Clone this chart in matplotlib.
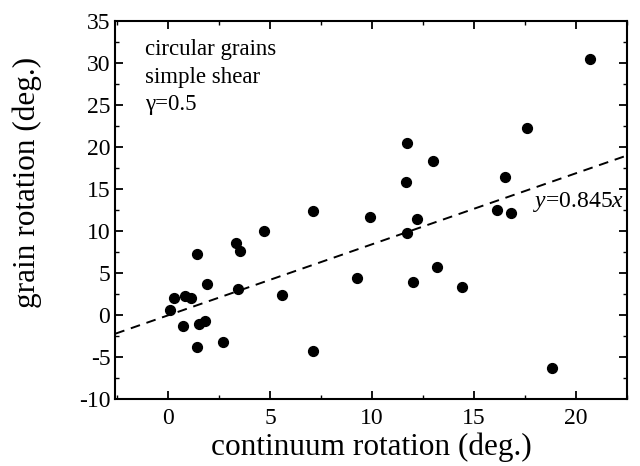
import matplotlib
matplotlib.use("Agg")
import matplotlib.pyplot as plt
from matplotlib.ticker import MultipleLocator
import numpy as np

plt.rcParams["font.family"] = ["Liberation Serif", "DejaVu Serif"]
plt.rcParams["mathtext.fontset"] = "custom"
plt.rcParams["mathtext.rm"] = "Liberation Serif"
plt.rcParams["mathtext.it"] = "Liberation Serif:italic"
plt.rcParams["axes.unicode_minus"] = False

continuum = [0.1, 0.3, 0.8, 1.1, 0.7, 1.4, 1.4, 1.5, 1.8, 1.9, 2.7, 3.3, 3.5, 3.4,
             4.7, 5.6, 7.1, 7.1, 9.25, 9.9, 11.7, 12.2, 13.2, 12.0, 14.4, 16.1,
             16.8, 18.8, 20.7, 17.6, 11.7, 11.65, 13.0, 16.5]
grain = [0.6, 2.0, 2.3, 2.0, -1.3, 7.3, -3.8, -1.0, -0.7, 3.7, -3.2, 8.6, 7.6, 3.1,
         10.0, 2.4, 12.4, -4.2, 4.4, 11.7, 9.8, 11.4, 5.7, 4.0, 3.4, 12.5,
         12.2, -6.3, 30.5, 22.3, 20.5, 15.8, 18.3, 16.5]
slope = 0.845

fig, ax = plt.subplots(figsize=(6.4, 4.66), dpi=100)
fig.subplots_adjust(left=0.18, right=0.98, top=0.955, bottom=0.143)

ax.scatter(continuum, grain, s=50, color="black", zorder=3)
xl = np.array([-2.6, 22.5])
ax.plot(xl, slope * xl, color="black", ls=(0, (5, 3.5)), lw=1.4)

ax.set_xlim(-2.6, 22.5)
ax.set_ylim(-10, 35)
ax.xaxis.set_major_locator(MultipleLocator(5))
ax.xaxis.set_minor_locator(MultipleLocator(2.5))
ax.yaxis.set_major_locator(MultipleLocator(5))
ax.yaxis.set_minor_locator(MultipleLocator(2.5))
ax.tick_params(which="both", direction="in", top=True, right=True, labelsize=17)
ax.tick_params(axis="x", which="major", pad=6)
ax.tick_params(which="major", length=6, width=1.3)
ax.tick_params(which="minor", length=3, width=1)
for s in ax.spines.values():
    s.set_linewidth(1.5)

ax.set_xlabel("continuum rotation (deg.)", fontsize=22.5, labelpad=3)
ax.set_ylabel("grain rotation (deg.)", fontsize=22.5)
ax.yaxis.set_label_coords(-0.143, 0.574)

ax.text(0.058, 0.952, "circular grains\nsimple shear\nγ=0.5", transform=ax.transAxes,
        fontsize=16.5, va="top", ha="left", linespacing=1.4)
ax.text(22.35, 12.1, "$y$=0.845$x$", fontsize=17, ha="right", va="bottom")

fig.savefig("out.png", dpi=100)
